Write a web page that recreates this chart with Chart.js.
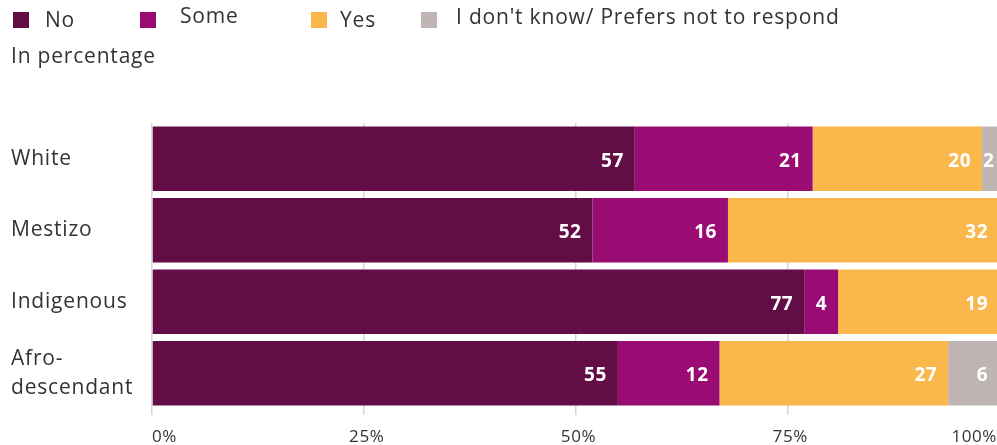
<!DOCTYPE html>
<html>
<head>
<meta charset="utf-8">
<script src="https://cdn.jsdelivr.net/npm/chart.js@4.4.1/dist/chart.umd.min.js"></script>
<style>
  html, body { margin: 0; padding: 0; background: #fff; overflow: hidden; }
  #wrap { position: relative; width: 1000px; height: 445px; }
</style>
</head>
<body>
<div id="wrap"><canvas id="chart"></canvas></div>
<script>
// Survey groups and answer shares (percent)
const categories = ['White', 'Mestizo', 'Indigenous', ['Afro-', 'descendant']];
const seriesNames = ['No', 'Some', 'Yes', "I don't know/ Prefers not to respond"];
const noValues   = [57, 52, 77, 55];
const someValues = [21, 16, 4, 12];
const yesValues  = [20, 32, 19, 27];
const dkValues   = [2, 0, 0, 6];
const xTickLabels = ['0%', '25%', '50%', '75%', '100%'];

const colors = ['#620d45', '#9a0c73', '#fab84c', '#bfb5b2'];
const FONT = "'Open Sans', Lato, sans-serif";
const TEXT = '#333333';
const SPACING = '0.8px';

// Legend row layout (box left edges, text offsets)
const legendBoxX = [13, 140, 311, 421];
const legendTextX = [45, 180, 340, 456];
const legendTextY = [21, 17, 21, 18];

// Slightly wider tracking for all canvas text
const trackingPlugin = {
  id: 'tracking',
  beforeDraw(chart) { chart.ctx.letterSpacing = SPACING; }
};

const legendPlugin = {
  id: 'topLegend',
  afterDraw(chart) {
    const ctx = chart.ctx;
    ctx.save();
    ctx.letterSpacing = SPACING;
    ctx.font = '21px ' + FONT;
    ctx.textBaseline = 'middle';
    ctx.textAlign = 'left';
    seriesNames.forEach((name, i) => {
      ctx.fillStyle = colors[i];
      ctx.fillRect(legendBoxX[i], 12, 16, 16);
      ctx.fillStyle = TEXT;
      ctx.fillText(name, legendTextX[i], legendTextY[i]);
    });
    ctx.fillText('In percentage', 11, 57);
    ctx.restore();
  }
};

// White value labels at the end of each segment
const valueLabelPlugin = {
  id: 'valueLabels',
  afterDatasetsDraw(chart) {
    const ctx = chart.ctx;
    ctx.save();
    ctx.letterSpacing = '0.5px';
    ctx.font = 'bold 19px ' + FONT;
    ctx.fillStyle = '#ffffff';
    ctx.textBaseline = 'middle';
    chart.data.datasets.forEach((ds, di) => {
      const meta = chart.getDatasetMeta(di);
      meta.data.forEach((bar, i) => {
        const v = ds.data[i];
        if (!v) return;
        const txt = String(v);
        const w = ctx.measureText(txt).width;
        const left = bar.base, right = bar.x;
        if (right - left < w + 12) {
          ctx.textAlign = 'left';
          ctx.fillText(txt, left + 1, bar.y + 2.5);
        } else {
          ctx.textAlign = 'right';
          ctx.fillText(txt, right - 11, bar.y + 2.5);
        }
      });
    });
    ctx.restore();
  }
};

// Percentage tick labels under the axis
const xTickPlugin = {
  id: 'xTicks',
  afterDraw(chart) {
    const ctx = chart.ctx;
    const xs = chart.scales.x;
    const last = xTickLabels.length - 1;
    ctx.save();
    ctx.letterSpacing = '0.6px';
    ctx.font = '17px ' + FONT;
    ctx.fillStyle = TEXT;
    ctx.textBaseline = 'middle';
    xTickLabels.forEach((lab, i) => {
      const px = xs.getPixelForValue(i * 25);
      if (i === 0) { ctx.textAlign = 'left'; ctx.fillText(lab, px, 437); }
      else if (i === last) { ctx.textAlign = 'right'; ctx.fillText(lab, 997, 437); }
      else { ctx.textAlign = 'center'; ctx.fillText(lab, px + 3, 437); }
    });
    ctx.restore();
  }
};

const seriesValues = [noValues, someValues, yesValues, dkValues];

new Chart(document.getElementById('chart'), {
  type: 'bar',
  data: {
    labels: categories,
    datasets: seriesNames.map((name, i) => ({
      label: name,
      data: seriesValues[i],
      backgroundColor: colors[i],
      borderWidth: 0,
      barPercentage: 0.9,
      categoryPercentage: 1.0
    }))
  },
  options: {
    indexAxis: 'y',
    responsive: true,
    maintainAspectRatio: false,
    animation: false,
    events: [],
    layout: { padding: { top: 123, left: 11, right: 1, bottom: 0 } },
    plugins: { legend: { display: false }, tooltip: { enabled: false } },
    scales: {
      x: {
        stacked: true,
        min: 0,
        max: 100,
        afterFit(s) { s.height = 36; },
        afterBuildTicks(s) { s.ticks = [0, 25, 50, 75, 100].map(v => ({ value: v })); },
        grid: { color: '#d6d6d6', lineWidth: 1.5, drawTicks: true, tickLength: 6, tickColor: '#d6d6d6' },
        border: { display: false },
        ticks: { display: false }
      },
      y: {
        stacked: true,
        afterFit(s) { s.width = 141; },
        grid: { display: false },
        border: { display: false },
        ticks: {
          crossAlign: 'far',
          color: TEXT,
          font: { family: FONT, size: 21, lineHeight: 1.4 }
        }
      }
    }
  },
  plugins: [trackingPlugin, legendPlugin, valueLabelPlugin, xTickPlugin]
});
</script>
</body>
</html>
